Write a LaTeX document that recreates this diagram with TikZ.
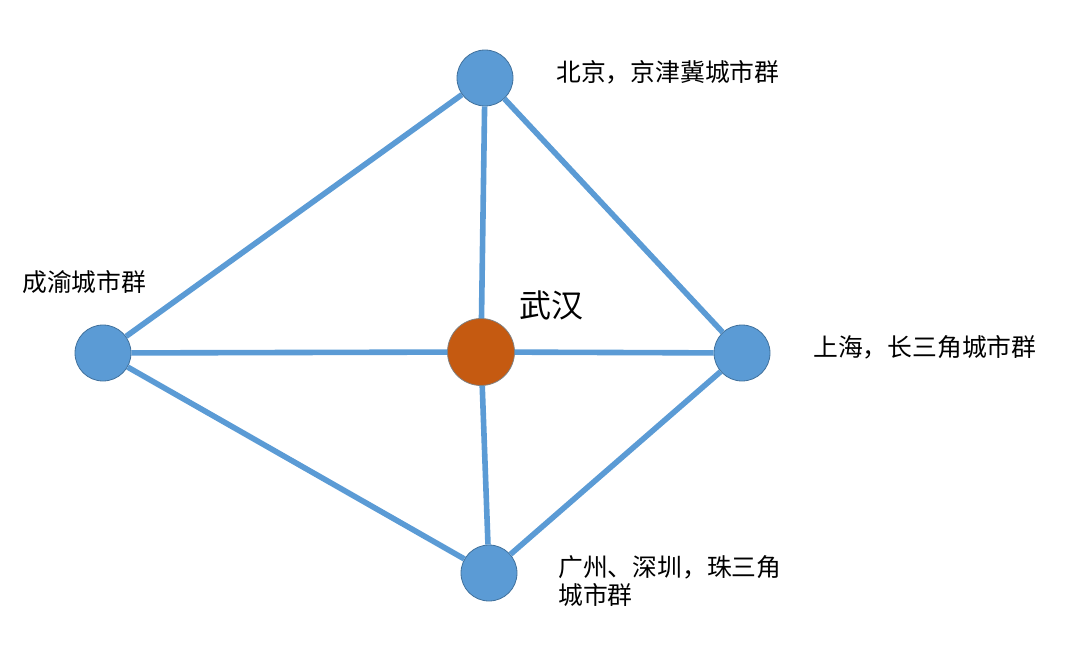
\documentclass[tikz,border=0pt]{standalone}
\usepackage{fontspec}
\newfontfamily\cjk{Noto Sans CJK SC}
\definecolor{cityblue}{HTML}{5B9BD5}
\definecolor{cityedge}{HTML}{41719C}
\definecolor{hubfill}{HTML}{C55A11}
\begin{document}
\begin{tikzpicture}[x=1pt, y=-1pt,
  city/.style={circle, fill=cityblue, draw=cityedge, line width=0.8pt, minimum size=56pt, inner sep=0pt},
  hub/.style={circle, fill=hubfill, draw=gray, line width=0.8pt, minimum size=67pt, inner sep=0pt},
  link/.style={draw=cityblue, line width=5.6pt},
  lbl/.style={anchor=west, inner sep=0pt, font=\cjk\fontsize{24.8pt}{28pt}\selectfont}]
\useasboundingbox (0,0) rectangle (1075,669);
\node[city] (bj) at (485,78){};
\node[city] (cy) at (103,353){};
\node[hub] (wh) at (481,352){};
\node[city] (sh) at (742,353){};
\node[city] (gz) at (489,573){};
\draw[link](bj) -- (cy);
\draw[link](bj) -- (wh);
\draw[link](bj) -- (sh);
\draw[link](cy) -- (wh);
\draw[link](wh) -- (sh);
\draw[link](cy) -- (gz);
\draw[link](wh) -- (gz);
\draw[link](sh) -- (gz);
\node[lbl] (bjt) at (556,72){北京，京津冀城市群};
\node[lbl] (cyt) at (22,282){成渝城市群};
\node[lbl, font=\cjk\fontsize{32pt}{36pt}\selectfont] (wht) at (519,305){武汉};
\node[lbl] (sht) at (813,347){上海，长三角城市群};
\node[lbl, align=left] (gzt) at (558,581){广州、深圳，珠三角\\城市群};
\end{tikzpicture}
\end{document}
